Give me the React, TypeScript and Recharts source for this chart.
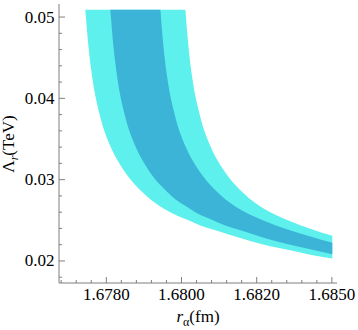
import React from 'react';
import { ComposedChart, Area, XAxis, YAxis } from 'recharts';

// Outer (light) band: x, lower edge, upper edge
const outerX = [1.677441, 1.677468, 1.677521, 1.677628, 1.67784, 1.678106, 1.678372, 1.678771, 1.67917, 1.679702, 1.680101, 1.680128, 1.680181, 1.680287, 1.6805, 1.680766, 1.681032, 1.681431, 1.68183, 1.682362, 1.682894, 1.683426, 1.684011];
const outerLow = [0.050901, 0.049422, 0.046587, 0.042519, 0.037712, 0.034137, 0.031795, 0.02933, 0.027604, 0.026002, 0.025165, 0.025115, 0.025004, 0.024795, 0.024363, 0.023957, 0.023587, 0.022995, 0.022465, 0.021812, 0.021319, 0.020752, 0.020296];
const outerHigh = [0.050901, 0.050901, 0.050901, 0.050901, 0.050901, 0.050901, 0.050901, 0.050901, 0.050901, 0.050901, 0.050901, 0.049422, 0.046587, 0.042519, 0.037712, 0.034137, 0.031795, 0.02933, 0.027604, 0.026002, 0.024893, 0.023957, 0.023094];

// Inner (dark) band
const innerX = [1.678106, 1.678133, 1.678186, 1.678293, 1.678505, 1.678771, 1.679037, 1.679436, 1.679463, 1.679516, 1.679622, 1.679835, 1.680101, 1.680367, 1.680766, 1.681165, 1.681697, 1.682229, 1.682761, 1.683426, 1.684011];
const innerLow = [0.050901, 0.049422, 0.046587, 0.042519, 0.037712, 0.034137, 0.031795, 0.02933, 0.029207, 0.02896, 0.028467, 0.027604, 0.026804, 0.026002, 0.025165, 0.024363, 0.023587, 0.022798, 0.022145, 0.021442, 0.020826];
const innerHigh = [0.050901, 0.050901, 0.050901, 0.050901, 0.050901, 0.050901, 0.050901, 0.050901, 0.049422, 0.046587, 0.042519, 0.037712, 0.034137, 0.031795, 0.02933, 0.027604, 0.026002, 0.024893, 0.023957, 0.022995, 0.022243];

const xMajorTicks = [1.678, 1.68, 1.682, 1.684];
const xMajorLabels = ['1.6780', '1.6800', '1.6820', '1.6850'];
const xMinorTicks = [1.6768, 1.6772, 1.6776, 1.6784, 1.6788, 1.6792, 1.6796, 1.6804, 1.6808, 1.6812, 1.6816, 1.6824, 1.6828, 1.6832, 1.6836];
const yMajorTicks = [0.02, 0.03, 0.04, 0.05];
const yMajorLabels = ['0.02', '0.03', '0.04', '0.05'];
const yMinorTicks = [0.018, 0.022, 0.024, 0.026, 0.028, 0.032, 0.034, 0.036, 0.038, 0.042, 0.044, 0.046, 0.048];

const xDomain = [1.676742, 1.684136];
const yDomain = [0.017288, 0.051604];

const outerData = outerX.map((x, i) => ({ x, band: [outerLow[i], outerHigh[i]] }));
const innerData = innerX.map((x, i) => ({ x, band: [innerLow[i], innerHigh[i]] }));

const allX = [...xMajorTicks, ...xMinorTicks].sort((a, b) => a - b);
const allY = [...yMajorTicks, ...yMinorTicks].sort((a, b) => a - b);

const majorIndex = (v: number, arr: number[]) => arr.findIndex((m) => Math.abs(m - v) < 1e-9);

const AXIS = '#7f7f7f';
const FONT = '"Liberation Serif", "DejaVu Serif", serif';
const TXT = { fontFamily: FONT, fontSize: 17 };
const MAJ = 6;
const MIN = 3;

const BottomTick = (props: any) => {
  const { x, y, payload } = props;
  const idx = majorIndex(payload.value, xMajorTicks);
  const len = idx >= 0 ? MAJ : MIN;
  return (
    <g>
      <line x1={x} x2={x} y1={y} y2={y - len} stroke={AXIS} strokeWidth={1} />
      {idx >= 0 && (
        <text x={x} y={y + 17} textAnchor="middle" style={TXT} fill="#000">
          {xMajorLabels[idx]}
        </text>
      )}
    </g>
  );
};

const TopTick = (props: any) => {
  const { x, y, payload } = props;
  const idx = majorIndex(payload.value, xMajorTicks);
  const len = idx >= 0 ? MAJ : MIN;
  return <line x1={x} x2={x} y1={y} y2={y + len} stroke={AXIS} strokeWidth={1} />;
};

const LeftTick = (props: any) => {
  const { x, y, payload } = props;
  const idx = majorIndex(payload.value, yMajorTicks);
  const len = idx >= 0 ? MAJ : MIN;
  return (
    <g>
      <line x1={x} x2={x + len} y1={y} y2={y} stroke={AXIS} strokeWidth={1} />
      {idx >= 0 && (
        <text x={x - 4.5} y={y + 5.5} textAnchor="end" style={TXT} fill="#000">
          {yMajorLabels[idx]}
        </text>
      )}
    </g>
  );
};

const RightTick = (props: any) => {
  const { x, y, payload } = props;
  const idx = majorIndex(payload.value, yMajorTicks);
  const len = idx >= 0 ? MAJ : MIN;
  return <line x1={x} x2={x - len} y1={y} y2={y} stroke={AXIS} strokeWidth={1} />;
};

export default function App() {
  return (
    <div style={{ position: 'absolute', left: 0, top: 0, width: 358, height: 330, background: '#fff' }}>
      <ComposedChart width={358} height={330} margin={{ top: 4, right: 21, bottom: 0, left: 0 }}>
        <XAxis
          xAxisId="b"
          dataKey="x"
          type="number"
          domain={xDomain}
          allowDataOverflow
          ticks={allX}
          interval={0}
          tickSize={0}
          tickMargin={0}
          tickLine={false}
          axisLine={{ stroke: AXIS }}
          height={47}
          tick={<BottomTick />}
        />
        <XAxis
          xAxisId="t"
          orientation="top"
          dataKey="x"
          type="number"
          domain={xDomain}
          allowDataOverflow
          ticks={allX}
          interval={0}
          tickSize={0}
          tickMargin={0}
          tickLine={false}
          axisLine={{ stroke: AXIS }}
          height={0}
          tick={<TopTick />}
        />
        <YAxis
          yAxisId="l"
          type="number"
          domain={yDomain}
          allowDataOverflow
          ticks={allY}
          interval={0}
          tickSize={0}
          tickMargin={0}
          tickLine={false}
          axisLine={{ stroke: AXIS }}
          width={59}
          tick={<LeftTick />}
        />
        <YAxis
          yAxisId="r"
          orientation="right"
          type="number"
          domain={yDomain}
          allowDataOverflow
          ticks={allY}
          interval={0}
          tickSize={0}
          tickMargin={0}
          tickLine={false}
          axisLine={{ stroke: AXIS }}
          width={0}
          tick={<RightTick />}
        />
        <Area
          xAxisId="b"
          yAxisId="l"
          data={outerData}
          dataKey="band"
          type="monotone"
          stroke="none"
          fill="#5ef0ec"
          fillOpacity={1}
          isAnimationActive={false}
        />
        <Area
          xAxisId="b"
          yAxisId="l"
          data={innerData}
          dataKey="band"
          type="monotone"
          stroke="none"
          fill="#3bb4d7"
          fillOpacity={1}
          isAnimationActive={false}
        />
      </ComposedChart>
      <svg width={358} height={330} style={{ position: 'absolute', left: 0, top: 0, pointerEvents: 'none' }}>
        <text x={198} y={322} textAnchor="middle" style={TXT} fill="#000">
          <tspan fontStyle="italic">r</tspan>
          <tspan dy={4} style={{ fontSize: 12 }}>α</tspan>
          <tspan dy={-4}>(fm)</tspan>
        </text>
        <text transform="translate(14,144) rotate(-90)" textAnchor="middle" style={TXT} fill="#000">
          <tspan>Λ</tspan>
          <tspan dy={4} style={{ fontSize: 12 }} fontStyle="italic">r</tspan>
          <tspan dy={-4}>(TeV)</tspan>
        </text>
      </svg>
    </div>
  );
}
